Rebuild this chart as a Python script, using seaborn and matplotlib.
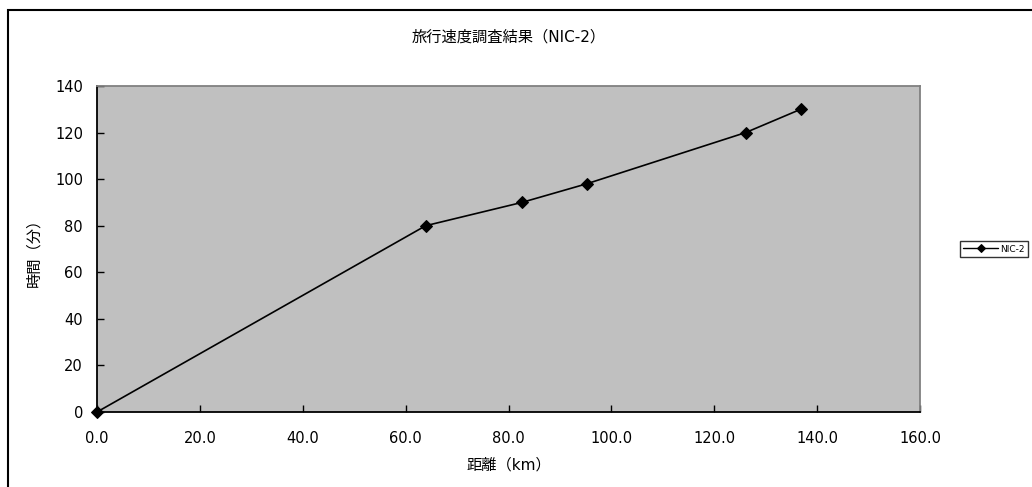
import matplotlib
matplotlib.use("Agg")
import matplotlib.pyplot as plt
import seaborn as sns
import pandas as pd
from matplotlib.patches import Rectangle

distance_km = [0.0, 63.9, 82.6, 95.2, 126.1, 136.8]
time_min = [0, 80, 90, 98, 120, 130]
series_name = "NIC-2"
title = "旅行速度調査結果（NIC-2）"
xlabel = "距離（km）"
ylabel = "時間（分）"
xticks = [0, 20, 40, 60, 80, 100, 120, 140, 160]
yticks = [0, 20, 40, 60, 80, 100, 120, 140]

sns.set_theme(style="ticks")
plt.rcParams['font.family'] = ['DejaVu Sans', 'Noto Sans CJK JP']
plt.rcParams['text.color'] = '#000000'
plt.rcParams['axes.labelcolor'] = '#000000'

df = pd.DataFrame({"distance": distance_km, "time": time_min, "series": series_name})

fig = plt.figure(figsize=(10.32, 4.87), dpi=100)
ax = fig.add_axes([97/1032, 1-412/487, (920-97)/1032, (412-86)/487])
ax.set_facecolor("#c0c0c0")

sns.lineplot(data=df, x="distance", y="time", hue="series", palette=["#000000"],
             marker="D", markersize=6, markeredgecolor="#000000", linewidth=1.2,
             ax=ax, clip_on=False)

ax.set_xlim(0, 160)
ax.set_ylim(0, 140)
ax.set_xticks(xticks)
ax.set_xticklabels([f"{v:.1f}" for v in xticks])
ax.set_yticks(yticks)
ax.set_yticklabels([str(v) for v in yticks])
ax.tick_params(axis="both", direction="in", length=5, width=1, colors="#000000",
               labelsize=10.5, pad=10)
ax.tick_params(axis="x", pad=14)
for s in ["left", "bottom"]:
    ax.spines[s].set_color("#000000")
    ax.spines[s].set_linewidth(1.3)
for s in ["top", "right"]:
    ax.spines[s].set_visible(True)
    ax.spines[s].set_color("#808080")
    ax.spines[s].set_linewidth(1.3)

ax.set_xlabel(xlabel, fontsize=11, labelpad=8)
ax.set_ylabel(ylabel, fontsize=11, labelpad=10)
ax.set_title(title, fontsize=11, pad=32)

leg = ax.legend(loc="center left", bbox_to_anchor=((960-97)/823, 0.5), fontsize=6.5,
                frameon=True, fancybox=False, edgecolor="#000000",
                handlelength=3.9, borderpad=0.35, handletextpad=0.2,
                borderaxespad=0)
leg.get_frame().set_linewidth(1.0)
for h in leg.legend_handles:
    h.set_markersize(4)
    h.set_linewidth(1.0)

border = Rectangle((8/1032, -0.1), 1.2, 1.1 - 10/487, transform=fig.transFigure,
                   fill=False, edgecolor="#000000", linewidth=1.5, clip_on=False)
fig.patches.append(border)

fig.savefig("out.png", dpi=100, facecolor="white")
